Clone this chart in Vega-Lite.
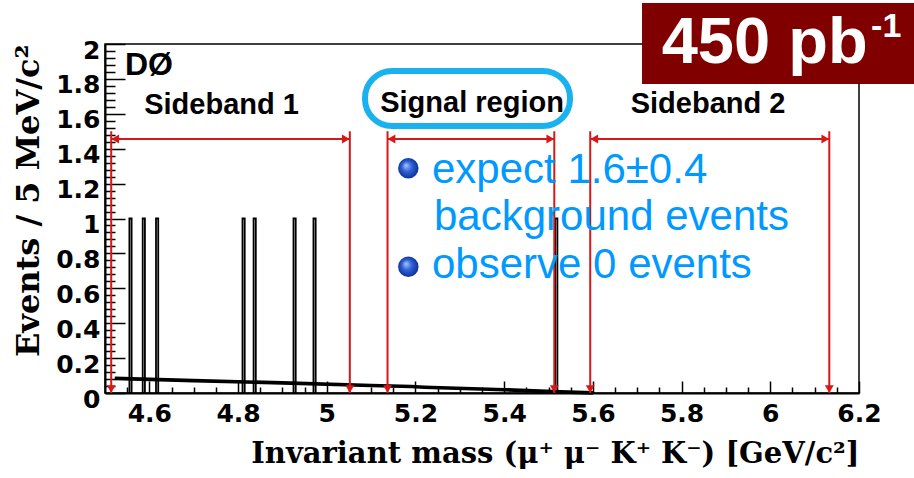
{
  "$schema": "https://vega.github.io/schema/vega-lite/v6.json",
  "width": 754,
  "height": 349,
  "autosize": {"type": "none"},
  "padding": {"left": 105, "top": 44, "right": 55, "bottom": 85},
  "background": "white",
  "config": {
    "view": {"stroke": "black", "strokeWidth": 1.5},
    "axis": {"labelOverlap": false, "labelBound": false}
  },
  "datasets": {
    "spikes": [
      {"lo": 4.555, "hi": 4.56, "n": 1},
      {"lo": 4.585, "hi": 4.59, "n": 1},
      {"lo": 4.615, "hi": 4.62, "n": 1},
      {"lo": 4.81, "hi": 4.815, "n": 1},
      {"lo": 4.835, "hi": 4.84, "n": 1},
      {"lo": 4.925, "hi": 4.93, "n": 1},
      {"lo": 4.97, "hi": 4.975, "n": 1},
      {"lo": 5.515, "hi": 5.52, "n": 1}
    ],
    "bkg": [
      {"m": 4.522, "y": 0.084},
      {"m": 4.7, "y": 0.071},
      {"m": 4.9, "y": 0.058},
      {"m": 5.1, "y": 0.043},
      {"m": 5.19, "y": 0.037},
      {"m": 5.22, "y": 0.033},
      {"m": 5.4, "y": 0.019},
      {"m": 5.51, "y": 0.008},
      {"m": 5.6, "y": 0.001}
    ],
    "edges": [{"e": 4.514}, {"e": 5.052}, {"e": 5.137}, {"e": 5.513}, {"e": 5.594}, {"e": 6.133}],
    "regions": [
      {"a": 4.514, "b": 5.052},
      {"a": 5.137, "b": 5.513},
      {"a": 5.594, "b": 6.133}
    ],
    "oval": [{"x1": 5.0862, "x2": 5.5485, "y1": 1.5301, "y2": 1.8453}],
    "dzero": [{"m": 4.5451, "y": 1.822, "t": "DØ"}],
    "bands": [
      {"m": 4.7627, "y": 1.599, "t": "Sideband 1"},
      {"m": 5.3275, "y": 1.61, "t": "Signal region"},
      {"m": 5.8597, "y": 1.605, "t": "Sideband 2"}
    ],
    "notes": [
      {"m": 5.2373, "y": 1.2017, "t": "expect 1.6±0.4"},
      {"m": 5.2418, "y": 0.934, "t": "background events"},
      {"m": 5.2373, "y": 0.657, "t": "observe 0 events"}
    ],
    "bullets": [{"m": 5.1839, "y": 1.2877}, {"m": 5.1839, "y": 0.7238}],
    "lumibox": [{"x1": 5.7108, "x2": 6.324, "y1": 1.7708, "y2": 2.235}],
    "lumi": [{"m": 5.7552, "y": 1.889, "t": "450 pb"}],
    "lumiexp": [{"m": 6.2272, "y": 2.042, "t": "-1"}]
  },
  "layer": [
    {
      "layer": [
        {
          "data": {"name": "spikes"},
          "mark": {"type": "rect", "fill": "white", "fillOpacity": 0, "stroke": "black", "strokeWidth": 1.8},
          "encoding": {
            "x": {
              "field": "lo", "type": "quantitative",
              "scale": {"domain": [4.5, 6.2], "nice": false, "zero": false},
              "axis": {
                "title": "Invariant mass (μ⁺ μ⁻ K⁺ K⁻) [GeV/c²]",
                "titleFont": "DejaVu Serif", "titleFontWeight": "bold", "titleFontSize": 29, "titleColor": "black",
                "titleAnchor": "end", "titleAlign": "right", "titleBaseline": "alphabetic", "titleX": 754, "titleY": 69,
                "values": [4.6, 4.8, 5, 5.2, 5.4, 5.6, 5.8, 6, 6.2],
                "format": "~g",
                "tickSize": -12, "tickColor": "black", "tickWidth": 1.5,
                "labelFont": "DejaVu Sans", "labelFontWeight": "bold", "labelFontSize": 25, "labelColor": "black",
                "labelPadding": 20, "labelFlush": false, "labelOverlap": false,
                "domainColor": "black", "domainWidth": 2, "grid": false
              }
            },
            "x2": {"field": "hi"},
            "y": {
              "field": "n", "type": "quantitative",
              "scale": {"domain": [0, 2], "nice": false},
              "axis": {
                "title": "Events / 5 MeV/c²",
                "titleFont": "DejaVu Serif", "titleFontWeight": "bold", "titleFontSize": 32, "titleColor": "black",
                "titleAngle": 270, "titleAlign": "right", "titleBaseline": "alphabetic", "titleX": -67, "titleY": 0,
                "values": [0, 0.4, 0.8, 1.2, 1.6, 2],
                "format": "~g",
                "tickSize": -20, "tickColor": "black", "tickWidth": 1.5,
                "labelFont": "DejaVu Sans", "labelFontWeight": "bold", "labelFontSize": 25, "labelColor": "black",
                "labelPadding": 25, "labelFlush": false, "labelOverlap": false, "labelOffset": 6,
                "domainColor": "black", "domainWidth": 2, "grid": false
              }
            },
            "y2": {"datum": 0}
          }
        },
        {
          "data": {"name": "bkg"},
          "mark": {"type": "line", "color": "black", "strokeWidth": 3.6},
          "encoding": {
            "x": {"field": "m", "type": "quantitative"},
            "y": {"field": "y", "type": "quantitative"}
          }
        },
        {
          "data": {"name": "edges"},
          "mark": {"type": "rule", "color": "#d81818", "strokeWidth": 2},
          "encoding": {
            "x": {"field": "e", "type": "quantitative"},
            "y": {"datum": 0},
            "y2": {"datum": 1.5}
          }
        },
        {
          "data": {"name": "regions"},
          "mark": {"type": "rule", "color": "#d81818", "strokeWidth": 2},
          "encoding": {
            "x": {"field": "a", "type": "quantitative"},
            "x2": {"field": "b"},
            "y": {"datum": 1.456}
          }
        },
        {
          "data": {"name": "regions"},
          "mark": {"type": "point", "shape": "triangle-left", "filled": true, "color": "#d81818", "size": 80, "xOffset": 4, "opacity": 1},
          "encoding": {
            "x": {"field": "a", "type": "quantitative"},
            "y": {"datum": 1.456}
          }
        },
        {
          "data": {"name": "regions"},
          "mark": {"type": "point", "shape": "triangle-right", "filled": true, "color": "#d81818", "size": 80, "xOffset": -4, "opacity": 1},
          "encoding": {
            "x": {"field": "b", "type": "quantitative"},
            "y": {"datum": 1.456}
          }
        },
        {
          "data": {"name": "edges"},
          "mark": {"type": "point", "shape": "triangle-down", "filled": true, "color": "#d81818", "size": 80, "yOffset": -4, "opacity": 1},
          "encoding": {
            "x": {"field": "e", "type": "quantitative"},
            "y": {"datum": 0}
          }
        },
        {
          "data": {"name": "oval"},
          "mark": {"type": "rect", "fillOpacity": 0, "stroke": "#1ab2ee", "strokeWidth": 6, "cornerRadius": 27},
          "encoding": {
            "x": {"field": "x1", "type": "quantitative"},
            "x2": {"field": "x2"},
            "y": {"field": "y1", "type": "quantitative"},
            "y2": {"field": "y2"}
          }
        },
        {
          "data": {"name": "dzero"},
          "mark": {"type": "text", "font": "Liberation Sans", "fontWeight": "bold", "fontSize": 32, "align": "left", "baseline": "alphabetic", "color": "black"},
          "encoding": {
            "x": {"field": "m", "type": "quantitative"},
            "y": {"field": "y", "type": "quantitative"},
            "text": {"field": "t"}
          }
        },
        {
          "data": {"name": "bands"},
          "mark": {"type": "text", "font": "Liberation Sans", "fontWeight": "bold", "fontSize": 29, "align": "center", "baseline": "alphabetic", "color": "black"},
          "encoding": {
            "x": {"field": "m", "type": "quantitative"},
            "y": {"field": "y", "type": "quantitative"},
            "text": {"field": "t"}
          }
        },
        {
          "data": {"name": "notes"},
          "mark": {"type": "text", "font": "Liberation Sans", "fontSize": 42, "align": "left", "baseline": "alphabetic", "color": "#0099ff"},
          "encoding": {
            "x": {"field": "m", "type": "quantitative"},
            "y": {"field": "y", "type": "quantitative"},
            "text": {"field": "t"}
          }
        },
        {
          "data": {"name": "bullets"},
          "mark": {
            "type": "point", "shape": "circle", "filled": true, "size": 420, "opacity": 1,
            "fill": {"gradient": "radial", "x1": 0.38, "y1": 0.35, "r1": 0, "x2": 0.5, "y2": 0.5, "r2": 0.55,
              "stops": [{"offset": 0, "color": "#a8c8ff"}, {"offset": 0.45, "color": "#2f62d8"}, {"offset": 1, "color": "#0a2a8a"}]}
          },
          "encoding": {
            "x": {"field": "m", "type": "quantitative"},
            "y": {"field": "y", "type": "quantitative"}
          }
        },
        {
          "data": {"name": "lumibox"},
          "mark": {"type": "rect", "color": "#800000", "opacity": 1},
          "encoding": {
            "x": {"field": "x1", "type": "quantitative"},
            "x2": {"field": "x2"},
            "y": {"field": "y1", "type": "quantitative"},
            "y2": {"field": "y2"}
          }
        },
        {
          "data": {"name": "lumi"},
          "mark": {"type": "text", "font": "Liberation Sans", "fontWeight": "bold", "fontSize": 65, "align": "left", "baseline": "alphabetic", "color": "white"},
          "encoding": {
            "x": {"field": "m", "type": "quantitative"},
            "y": {"field": "y", "type": "quantitative"},
            "text": {"field": "t"}
          }
        },
        {
          "data": {"name": "lumiexp"},
          "mark": {"type": "text", "font": "Liberation Sans", "fontWeight": "bold", "fontSize": 34, "align": "left", "baseline": "alphabetic", "color": "white"},
          "encoding": {
            "x": {"field": "m", "type": "quantitative"},
            "y": {"field": "y", "type": "quantitative"},
            "text": {"field": "t"}
          }
        }
      ]
    },
    {
      "data": {"name": "spikes"},
      "mark": {"type": "point", "opacity": 0},
      "encoding": {
        "x": {
          "field": "lo", "type": "quantitative",
          "scale": {"domain": [4.5, 6.2], "nice": false, "zero": false},
          "axis": {
            "orient": "bottom", "title": null, "labels": false, "domain": false, "grid": false,
            "values": [4.55, 4.65, 4.7, 4.75, 4.85, 4.9, 4.95, 5.05, 5.1, 5.15, 5.25, 5.3, 5.35, 5.45, 5.5, 5.55, 5.65, 5.7, 5.75, 5.85, 5.9, 5.95, 6.05, 6.1, 6.15],
            "tickSize": -6, "tickColor": "black", "tickWidth": 1.5
          }
        },
        "y": {
          "field": "n", "type": "quantitative",
          "scale": {"domain": [0, 2], "nice": false},
          "axis": {
            "orient": "left", "title": null, "domain": false, "grid": false,
            "values": [0.2, 0.6, 1, 1.4, 1.8],
            "format": "~g",
            "tickSize": -20, "tickColor": "black", "tickWidth": 1.5,
            "labelFont": "DejaVu Sans", "labelFontWeight": "bold", "labelFontSize": 25, "labelColor": "black",
            "labelPadding": 25, "labelFlush": false, "labelOverlap": false, "labelOffset": 6
          }
        }
      }
    },
    {
      "data": {"name": "spikes"},
      "mark": {"type": "point", "opacity": 0},
      "encoding": {
        "x": {
          "field": "lo", "type": "quantitative",
          "scale": {"domain": [4.5, 6.2], "nice": false, "zero": false},
          "axis": null
        },
        "y": {
          "field": "n", "type": "quantitative",
          "scale": {"domain": [0, 2], "nice": false},
          "axis": {
            "orient": "left", "title": null, "labels": false, "domain": false, "grid": false,
            "values": [0.04, 0.08, 0.12, 0.16, 0.24, 0.28, 0.32, 0.36, 0.44, 0.48, 0.52, 0.56, 0.64, 0.68, 0.72, 0.76, 0.84, 0.88, 0.92, 0.96, 1.04, 1.08, 1.12, 1.16, 1.24, 1.28, 1.32, 1.36, 1.44, 1.48, 1.52, 1.56, 1.64, 1.68, 1.72, 1.76, 1.84, 1.88, 1.92, 1.96],
            "tickSize": -10, "tickColor": "black", "tickWidth": 1.5
          }
        }
      }
    }
  ],
  "resolve": {
    "scale": {"x": "independent", "y": "independent"},
    "axis": {"x": "independent", "y": "independent"}
  }
}
